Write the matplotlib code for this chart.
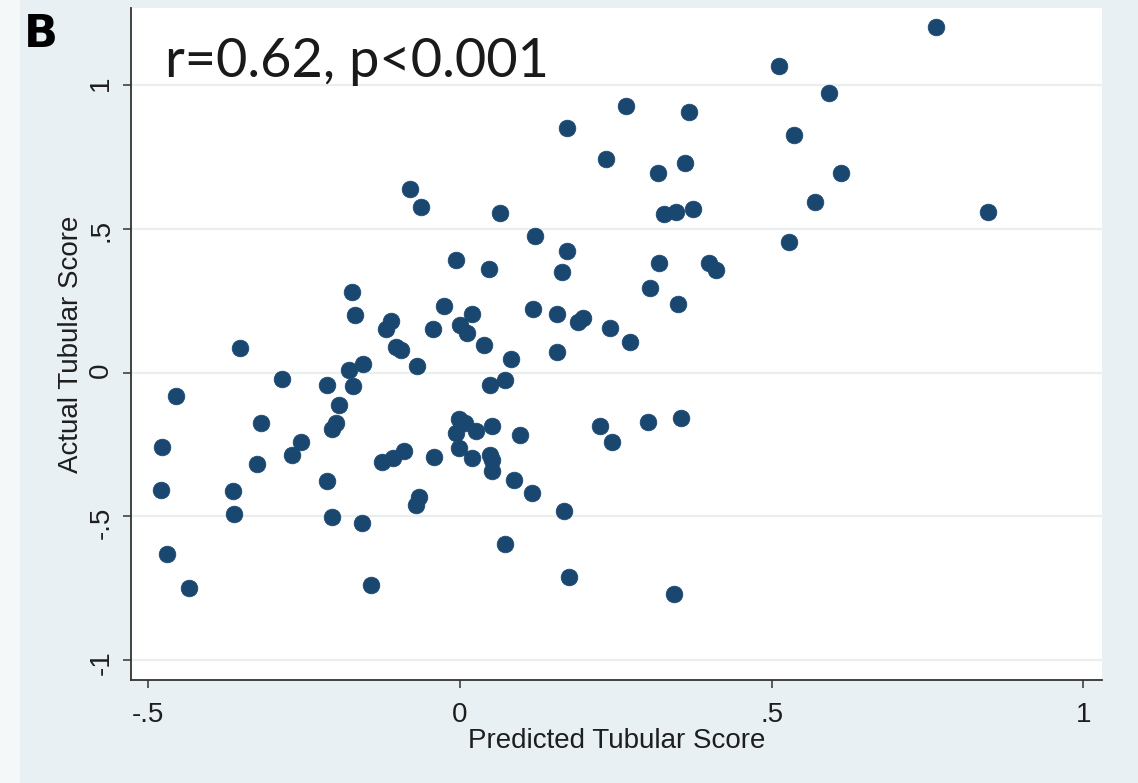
import matplotlib
matplotlib.use("Agg")
import matplotlib.pyplot as plt
from matplotlib.patches import Rectangle

# ---- data ----
predicted = [
    0.266, 0.367, 0.172, 0.536, 0.235, 0.361, 0.318, 0.569, 0.064, 0.328,
    0.347, 0.374, 0.121, 0.528, 0.172, -0.006, 0.046, 0.164, 0.320, 0.399,
    0.411, 0.305, 0.349, -0.025, 0.019, 0.000, 0.011, 0.038, 0.117, 0.155,
    0.189, 0.197, 0.240, 0.273, 0.155, 0.082, 0.073, 0.049, -0.001, 0.008,
    -0.007, 0.026, 0.051, 0.096, -0.001, 0.020, 0.048, 0.052, 0.051, 0.086,
    0.116, 0.167, 0.224, 0.244, 0.302, 0.355, 0.072, 0.175, 0.343,
    -0.173, -0.168, -0.043, -0.119, -0.110, -0.103, -0.094, -0.069, -0.353, -0.178,
    -0.155, -0.455, -0.285, -0.213, -0.171, -0.194, -0.199, -0.205, -0.319, -0.478,
    -0.255, -0.269, -0.325, -0.125, -0.107, -0.090, -0.041, -0.480, -0.364, -0.362,
    -0.213, -0.066, -0.071, -0.205, -0.157, -0.469, -0.434, -0.143,
    -0.080, -0.063,
    0.763, 0.511, 0.592, 0.611, 0.847,
]
actual = [
    0.928, 0.905, 0.850, 0.826, 0.743, 0.729, 0.695, 0.592, 0.554, 0.553,
    0.558, 0.568, 0.475, 0.455, 0.423, 0.393, 0.360, 0.350, 0.380, 0.380,
    0.355, 0.293, 0.239, 0.233, 0.202, 0.167, 0.139, 0.095, 0.222, 0.202,
    0.175, 0.189, 0.155, 0.105, 0.071, 0.046, -0.025, -0.043, -0.160, -0.176,
    -0.210, -0.204, -0.186, -0.219, -0.264, -0.299, -0.288, -0.303, -0.342, -0.374,
    -0.419, -0.482, -0.185, -0.240, -0.173, -0.157, -0.597, -0.712, -0.772,
    0.279, 0.199, 0.150, 0.152, 0.180, 0.088, 0.078, 0.023, 0.084, 0.009,
    0.031, -0.081, -0.024, -0.043, -0.046, -0.114, -0.175, -0.195, -0.175, -0.259,
    -0.242, -0.288, -0.317, -0.312, -0.296, -0.273, -0.294, -0.409, -0.411, -0.492,
    -0.377, -0.432, -0.461, -0.503, -0.525, -0.632, -0.751, -0.738,
    0.638, 0.575,
    1.203, 1.067, 0.973, 0.695, 0.557,
]
x_ticks = [-0.5, 0, 0.5, 1]
x_tick_labels = ["-.5", "0", ".5", "1"]
y_ticks = [-1, -0.5, 0, 0.5, 1]
y_tick_labels = ["-1", "-.5", "0", ".5", "1"]
x_title = "Predicted Tubular Score"
y_title = "Actual Tubular Score"
annotation = "r=0.62, p<0.001"
panel_letter = "B"

# ---- figure ----
plt.rcParams["font.family"] = ["Liberation Sans", "DejaVu Sans"]
W, H = 1138, 783
fig = plt.figure(figsize=(W / 100, H / 100), dpi=100, facecolor="#e9f0f3")
fig.patches.append(Rectangle((0, 0), 20 / W, 1, transform=fig.transFigure,
                             facecolor="#f5f8f9", edgecolor="none", zorder=0))

ax = fig.add_axes([131 / W, 1 - 680 / H, (1102 - 131) / W, (680 - 8) / H])
ax.set_facecolor("white")
ax.scatter(predicted, actual, s=145, c="#1a476f", edgecolors="#1a476f",
           linewidths=0.5, zorder=3)

ax.set_xlim(-0.5274, 1.0297)
ax.set_ylim(-1.0696, 1.268)
ax.set_xticks(x_ticks, x_tick_labels)
ax.set_yticks(y_ticks, y_tick_labels)
ax.grid(axis="y", color="#ebeeef", linewidth=1.6)
ax.grid(axis="x", visible=False)
ax.set_axisbelow(True)

for s in ["top", "right"]:
    ax.spines[s].set_visible(False)
for s in ["left", "bottom"]:
    ax.spines[s].set_color("#333333")
    ax.spines[s].set_linewidth(1.3)

ax.tick_params(direction="out", length=6, width=1.1, color="#333333",
               labelsize=20, labelcolor="#1e1e1e")
ax.tick_params(axis="x", pad=10)
ax.tick_params(axis="y", pad=6, labelrotation=90)

ax.set_xlabel(x_title, fontsize=20, color="#1e1e1e")
ax.xaxis.set_label_coords(0.5, -0.0714)
ax.set_ylabel(y_title, fontsize=20, color="#1e1e1e")
ax.yaxis.label.set_verticalalignment("center")
ax.yaxis.set_label_coords(-0.0618, 0.5)

fig.text(165 / W, 1 - 76.5 / H, annotation, fontsize=39, family=["Lato", "DejaVu Sans"],
         color="#1a1a1a", ha="left", va="baseline")
fig.text(24 / W, 1 - 47 / H, panel_letter, fontsize=32, fontweight="bold",
         family=["DejaVu Sans"], color="black", ha="left", va="baseline")

fig.savefig("out.png", dpi=100, facecolor=fig.get_facecolor())
